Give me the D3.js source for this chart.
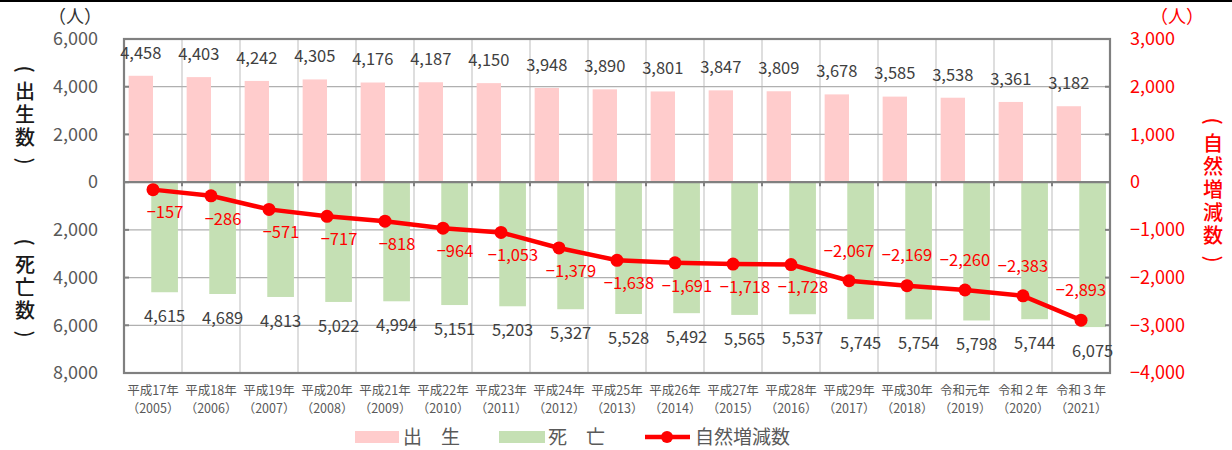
<!DOCTYPE html>
<meta charset="utf-8">
<style>
  body { margin:0; background:#fff; }
  text { font-family:"Noto Sans CJK JP", "Liberation Sans", sans-serif; }
</style>
<svg width="1232" height="450"></svg>
<script src="https://d3js.org/d3.v7.min.js"></script>
<script>

// data
var eras = ["平成17年","平成18年","平成19年","平成20年","平成21年","平成22年","平成23年","平成24年","平成25年","平成26年","平成27年","平成28年","平成29年","平成30年","令和元年","令和２年","令和３年"];
var years = ["2005","2006","2007","2008","2009","2010","2011","2012","2013","2014","2015","2016","2017","2018","2019","2020","2021"];
var births = [4458,4403,4242,4305,4176,4187,4150,3948,3890,3801,3847,3809,3678,3585,3538,3361,3182];
var deaths = [4615,4689,4813,5022,4994,5151,5203,5327,5528,5492,5565,5537,5745,5754,5798,5744,6075];
var natural = [-157,-286,-571,-717,-818,-964,-1053,-1379,-1638,-1691,-1718,-1728,-2067,-2169,-2260,-2383,-2893];
var leftTicks = [6000,4000,2000,0,-2000,-4000,-6000,-8000];
var rightTicks = [3000,2000,1000,0,-1000,-2000,-3000,-4000];

var svg = d3.select("svg"),
    pLeft = 124, pRight = 1110, pTop = 39, pBottom = 373;

var x = d3.scaleBand().domain(years).range([pLeft, pRight]);
var bw = x.bandwidth();
var yL = d3.scaleLinear().domain([6000, -8000]).range([pTop, pBottom]);
var yR = d3.scaleLinear().domain([3000, -4000]).range([pTop, pBottom]);
var fmt = d3.format(",");

var pink = "#ffcccc", green = "#c5e0b4", red = "#ff0000", grey = "#595959";

// top rule
svg.append("line").attr("x1", 0).attr("x2", 1232).attr("y1", 1).attr("y2", 1)
  .attr("stroke", "#000").attr("stroke-width", 2);

// grid
svg.append("g").selectAll("line").data(years.slice(1))
  .enter().append("line")
    .attr("x1", function(d) { return x(d); }).attr("x2", function(d) { return x(d); })
    .attr("y1", pTop).attr("y2", pBottom)
    .attr("stroke", "#c8c8c8").attr("stroke-width", 1.2);

svg.append("g").selectAll("line").data(leftTicks.filter(function(d) { return d != 0 && d != 6000 && d != -8000; }))
  .enter().append("line")
    .attr("x1", pLeft).attr("x2", pRight)
    .attr("y1", yL).attr("y2", yL)
    .attr("stroke", "#b0b0b0").attr("stroke-width", 1.2);

// bars
svg.append("g").selectAll("rect").data(births)
  .enter().append("rect")
    .attr("x", function(d, i) { return x(years[i]) + bw * 0.08; })
    .attr("width", bw * 0.42)
    .attr("y", function(d) { return yL(d); })
    .attr("height", function(d) { return yL(0) - yL(d); })
    .attr("fill", pink);

svg.append("g").selectAll("rect").data(deaths)
  .enter().append("rect")
    .attr("x", function(d, i) { return x(years[i]) + bw * 0.47; })
    .attr("width", bw * 0.46)
    .attr("y", yL(0))
    .attr("height", function(d) { return yL(-d) - yL(0); })
    .attr("fill", green);

// frame + zero line
svg.append("rect").attr("x", pLeft).attr("y", pTop).attr("width", pRight - pLeft).attr("height", pBottom - pTop)
  .attr("fill", "none").attr("stroke", "#808080").attr("stroke-width", 2.2);
svg.append("line").attr("x1", pLeft).attr("x2", pRight).attr("y1", yL(0)).attr("y2", yL(0))
  .attr("stroke", "#808080").attr("stroke-width", 2.2);
svg.append("g").selectAll("line").data(years.slice(1))
  .enter().append("line")
    .attr("x1", function(d) { return x(d); }).attr("x2", function(d) { return x(d); })
    .attr("y1", yL(0)).attr("y2", yL(0) + 4)
    .attr("stroke", "#808080").attr("stroke-width", 2);
svg.append("g").selectAll("line").data(leftTicks)
  .enter().append("line")
    .attr("x1", pLeft).attr("x2", pLeft + 5).attr("y1", yL).attr("y2", yL)
    .attr("stroke", "#808080").attr("stroke-width", 2);
svg.append("g").selectAll("line").data(rightTicks)
  .enter().append("line")
    .attr("x1", pRight - 5).attr("x2", pRight).attr("y1", yR).attr("y2", yR)
    .attr("stroke", "#808080").attr("stroke-width", 2);

// axis labels
svg.append("g").selectAll("text").data(leftTicks)
  .enter().append("text")
    .attr("x", 98).attr("y", yL).attr("dy", "0.35em")
    .attr("text-anchor", "end").attr("fill", grey).style("font-size", "18px")
    .text(function(d) { return fmt(Math.abs(d)); });

svg.append("g").selectAll("text").data(rightTicks)
  .enter().append("text")
    .attr("x", 1130).attr("y", yR).attr("dy", "0.35em")
    .attr("fill", red).style("font-size", "18px")
    .text(function(d) { return fmt(d); });

svg.append("text").attr("x", 75).attr("y", 17).attr("dy", "0.35em").attr("text-anchor", "middle")
  .attr("fill", "#333").style("font-size", "18px").text("（人）");
svg.append("text").attr("x", 1177).attr("y", 17).attr("dy", "0.35em").attr("text-anchor", "middle")
  .attr("fill", red).style("font-size", "18px").text("（人）");

// vertical titles: brackets are turned sideways
function vtitle(chars, cx, cy, color) {
  svg.append("g").selectAll("text").data(chars)
    .enter().append("text")
      .attr("transform", function(d, i) {
        var yy = cy + (i - (chars.length - 1) / 2) * 23;
        return "translate(" + cx + "," + yy + ")" + (d == "(" || d == ")" ? "rotate(90)" : "");
      })
      .attr("dy", "0.35em").attr("text-anchor", "middle")
      .attr("fill", color).style("font-size", "20px").style("font-weight", "500")
      .text(function(d) { return d; });
}
vtitle(["(","出","生","数",")"], 25, 115, "#1a1a1a");
vtitle(["(","死","亡","数",")"], 25, 288, "#1a1a1a");
vtitle(["(","自","然","増","減","数",")"], 1213, 190, red);

// x labels
var xl = svg.append("g").selectAll("g").data(years)
  .enter().append("g")
    .attr("transform", function(d) { return "translate(" + (x(d) + bw / 2) + ",0)"; })
    .attr("text-anchor", "middle").attr("fill", grey).style("font-size", "12.5px");
xl.append("text").attr("y", 391).attr("dy", "0.35em").text(function(d, i) { return eras[i]; });
xl.append("text").attr("y", 409).attr("dy", "0.35em").text(function(d) { return "（" + d + "）"; });

// bar labels
svg.append("g").selectAll("text").data(births)
  .enter().append("text")
    .attr("x", function(d, i) { return x(years[i]) + bw * 0.29; })
    .attr("y", function(d) { return yL(d) - 23; }).attr("dy", "0.35em")
    .attr("text-anchor", "middle").attr("fill", "#404040").style("font-size", "16.5px")
    .text(fmt);
svg.append("g").selectAll("text").data(deaths)
  .enter().append("text")
    .attr("x", function(d, i) { return x(years[i]) + bw * 0.7; })
    .attr("y", function(d) { return yL(-d) + 24; }).attr("dy", "0.35em")
    .attr("text-anchor", "middle").attr("fill", "#404040").style("font-size", "16.5px")
    .text(fmt);

// natural increase line
var line = d3.line()
  .x(function(d, i) { return x(years[i]) + bw / 2; })
  .y(function(d) { return yR(d); });
svg.append("path").datum(natural).attr("d", line)
  .attr("fill", "none").attr("stroke", red).attr("stroke-width", 4.5);
svg.append("g").selectAll("circle").data(natural)
  .enter().append("circle")
    .attr("cx", function(d, i) { return x(years[i]) + bw / 2; })
    .attr("cy", yR).attr("r", 6.5).attr("fill", red);
svg.append("g").selectAll("text").data(natural)
  .enter().append("text")
    .attr("x", function(d, i) { return x(years[i]) + bw / 2 + (i < 12 ? 12 : 0); })
    .attr("y", function(d, i) { return yR(d) + (i < 12 ? 23 : -30); }).attr("dy", "0.35em")
    .attr("text-anchor", "middle").attr("fill", red).style("font-size", "16.5px")
    .text(fmt);

// legend
var lg = svg.append("g").attr("transform", "translate(0,437)");
lg.append("rect").attr("x", 355).attr("y", -6).attr("width", 44).attr("height", 12).attr("fill", pink);
lg.append("text").attr("x", 403).attr("dy", "0.35em").attr("fill", grey).style("font-size", "19px").text("出　生");
lg.append("rect").attr("x", 499).attr("y", -6).attr("width", 46).attr("height", 12).attr("fill", green);
lg.append("text").attr("x", 548).attr("dy", "0.35em").attr("fill", grey).style("font-size", "19px").text("死　亡");
lg.append("line").attr("x1", 645).attr("x2", 690).attr("stroke", red).attr("stroke-width", 4.5);
lg.append("circle").attr("cx", 667).attr("r", 6).attr("fill", red);
lg.append("text").attr("x", 695).attr("dy", "0.35em").attr("fill", grey).style("font-size", "19px").text("自然増減数");

</script>
